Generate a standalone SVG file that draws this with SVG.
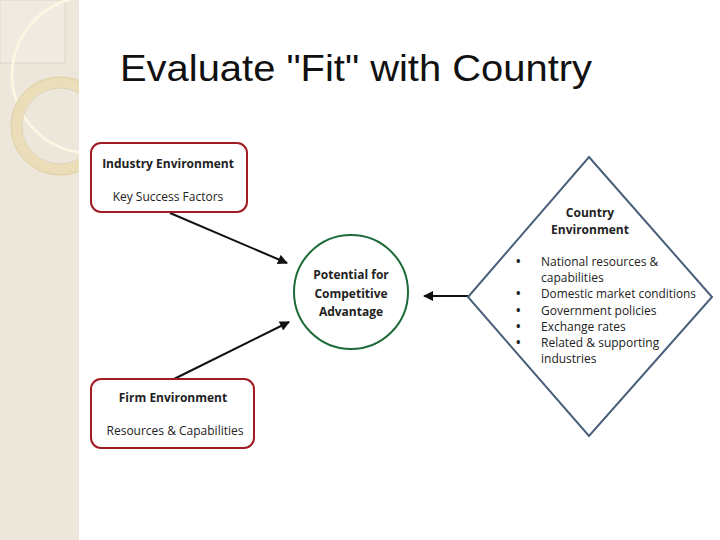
<svg xmlns="http://www.w3.org/2000/svg" width="720" height="540" viewBox="0 0 720 540">
<style>
text{font-family:"Open Sans","DejaVu Sans",sans-serif;fill:#222;}
.b{font-weight:bold;font-size:12px;}
.n{font-size:12px;}
.box{fill:#fff;stroke:#A01C22;stroke-width:2;}
.con{stroke:#111;stroke-width:2;fill:none;marker-end:url(#ah);}
</style>
<defs>
<marker id="ah" viewBox="0 0 10 10" refX="9" refY="5" markerWidth="11" markerHeight="10" orient="auto" markerUnits="userSpaceOnUse" >
<path d="M0,0L10,5L0,10z" fill="#111"/>
</marker>
<clipPath id="side"><rect x="0" y="0" width="79" height="540"/></clipPath>
</defs>
<rect width="720" height="540" fill="#fff"/>
<g clip-path="url(#side)">
<rect width="79" height="540" fill="#ECE7DA"/>
<rect x="0" y="0" width="65" height="63" fill="#EFEBE0" stroke="#D8CFBA" stroke-width="0.7"/>
<circle cx="90" cy="75" r="78" fill="none" stroke="#FBF5E2" stroke-width="3"/>
<circle cx="60" cy="126" r="44" fill="none" stroke="#EBDDB8" stroke-width="11"/>
<circle cx="60" cy="126" r="49" fill="none" stroke="#D8C9A5" stroke-width="0.7"/>
<circle cx="60" cy="126" r="38" fill="none" stroke="#D8C9A5" stroke-width="0.7"/>
</g>
<text x="120" y="81" textLength="472" lengthAdjust="spacingAndGlyphs" style="font-family:'Liberation Sans',Arial,sans-serif;font-size:36px;fill:#111">Evaluate "Fit" with Country</text>
<g id="connectors">
<line class="con" x1="170" y1="213" x2="287" y2="263"/>
<line class="con" x1="172" y1="380" x2="289" y2="322"/>
<line class="con" x1="468" y1="296" x2="424" y2="296"/>
</g>
<g id="industry">
<rect class="box" x="91" y="143" width="156" height="69" rx="10"/>
<text class="b" x="168" y="168" text-anchor="middle">Industry Environment</text>
<text class="n" x="168" y="201" text-anchor="middle">Key Success Factors</text>
</g>
<g id="firm">
<rect class="box" x="91" y="379" width="163" height="69" rx="10"/>
<text class="b" x="173" y="402" text-anchor="middle">Firm Environment</text>
<text class="n" x="175" y="435" text-anchor="middle">Resources &amp; Capabilities</text>
</g>
<g id="potential">
<circle cx="351" cy="292" r="57" fill="#fff" stroke="#1E6B3A" stroke-width="2"/>
<text class="b" x="351" y="279" text-anchor="middle">Potential for</text>
<text class="b" x="351" y="298" text-anchor="middle">Competitive</text>
<text class="b" x="351" y="316" text-anchor="middle">Advantage</text>
</g>
<g id="country">
<polygon points="589,157 712,297 589,436 468,297" fill="#fff" stroke="#4A5F7A" stroke-width="2"/>
<text class="b" x="590" y="217" text-anchor="middle">Country</text>
<text class="b" x="590" y="234" text-anchor="middle">Environment</text>
<g>
<text class="b" x="516" y="266">•</text><text class="n" x="541" y="266">National resources &amp;</text>
<text class="n" x="541" y="282">capabilities</text>
<text class="b" x="516" y="298">•</text><text class="n" x="541" y="298" textLength="155" lengthAdjust="spacingAndGlyphs">Domestic market conditions</text>
<text class="b" x="516" y="315">•</text><text class="n" x="541" y="315">Government policies</text>
<text class="b" x="516" y="331">•</text><text class="n" x="541" y="331">Exchange rates</text>
<text class="b" x="516" y="347">•</text><text class="n" x="541" y="347">Related &amp; supporting</text>
<text class="n" x="541" y="363">industries</text>
</g>
</g>
</svg>
